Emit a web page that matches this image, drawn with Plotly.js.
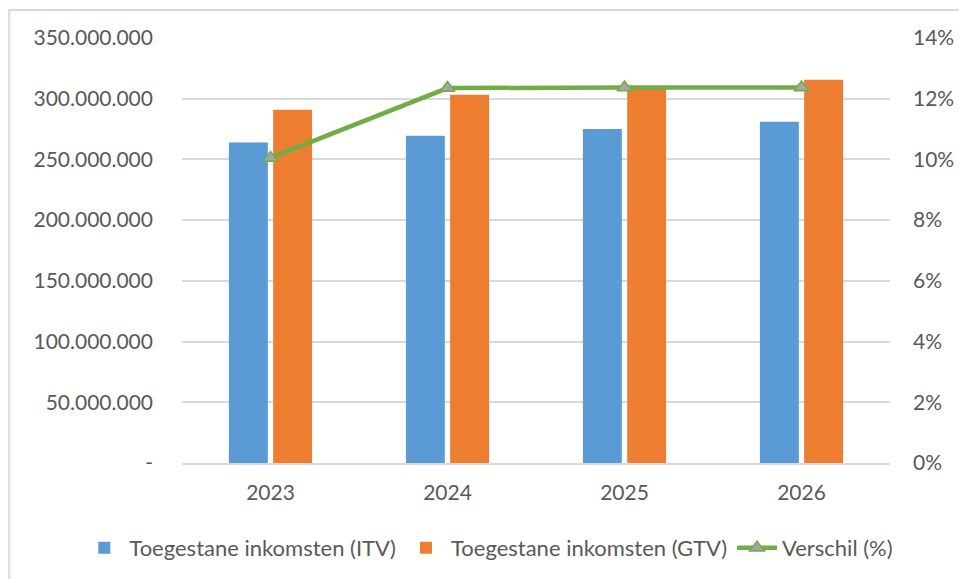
<!DOCTYPE html>
<html>
<head>
<meta charset="utf-8">
<script src="https://cdn.plot.ly/plotly-3.0.1.min.js"></script>
<style>
html,body{margin:0;padding:0;background:#fff;}
#grafiek{width:959px;height:579px;}
</style>
</head>
<body>
<div id="grafiek"></div>
<script>
var jaren = ['2023', '2024', '2025', '2026'];
var itv = [264000000, 269500000, 275000000, 281000000];
var gtv = [290900000, 303300000, 309500000, 315600000];
var verschil = [0.1005, 0.1235, 0.1237, 0.1237];

var linksTicks = [0, 50000000, 100000000, 150000000, 200000000, 250000000, 300000000, 350000000];
var linksLabels = ['-', '50.000.000', '100.000.000', '150.000.000', '200.000.000', '250.000.000', '300.000.000', '350.000.000'];

var grijs = '#595959';

var data = [
  {
    x: jaren, y: itv, type: 'bar', name: 'Toegestane inkomsten (ITV)',
    marker: {color: '#5b9bd5'}
  },
  {
    x: jaren, y: gtv, type: 'bar', name: 'Toegestane inkomsten (GTV)',
    marker: {color: '#ed7d31'}
  },
  {
    x: jaren, y: verschil, type: 'scatter', mode: 'lines+markers', name: 'Verschil (%)',
    yaxis: 'y2',
    line: {color: '#70ad47', width: 4.5},
    marker: {symbol: 'triangle-up', size: 13, color: '#a5a5a5', line: {color: '#70ad47', width: 1.5}}
  }
];

var layout = {
  width: 959, height: 579,
  paper_bgcolor: '#fff', plot_bgcolor: '#fff',
  font: {family: 'Lato, "Open Sans", sans-serif', size: 21, color: grijs},
  margin: {l: 182, r: 69, t: 38, b: 116, autoexpand: false},
  barmode: 'group', bargap: 0.5, bargroupgap: 0.12,
  showlegend: true,
  legend: {
    orientation: 'h', x: -0.145, xanchor: 'left',
    y: -0.2, yanchor: 'middle', font: {size: 22, color: grijs},
    traceorder: 'normal', itemwidth: 40, tracegroupgap: 0
  },
  xaxis: {
    type: 'category', showgrid: false, showline: true, linecolor: '#d9d9d9', linewidth: 1.5,
    ticks: '', tickangle: 0, automargin: false, ticklabelstandoff: 10,
    tickfont: {size: 21, color: grijs}
  },
  yaxis: {
    range: [0, 350000000], tickvals: linksTicks, ticktext: linksLabels,
    gridcolor: '#d9d9d9', gridwidth: 1.5, zeroline: false, automargin: false,
    ticks: '', ticklabelstandoff: 28, tickfont: {size: 21, color: grijs}
  },
  yaxis2: {
    overlaying: 'y', side: 'right', range: [0, 0.14], dtick: 0.02,
    tickformat: '.0%', showgrid: false, zeroline: false, automargin: false,
    ticks: '', ticklabelstandoff: 22, tickfont: {size: 21, color: grijs}
  },
  shapes: [{
    type: 'rect', xref: 'paper', yref: 'paper',
    x0: -0.244, x1: 1.2, y0: -0.5, y1: 1.066,
    line: {color: '#d9d9d9', width: 2}
  }]
};

Plotly.newPlot('grafiek', data, layout, {displayModeBar: false});
</script>
</body>
</html>
